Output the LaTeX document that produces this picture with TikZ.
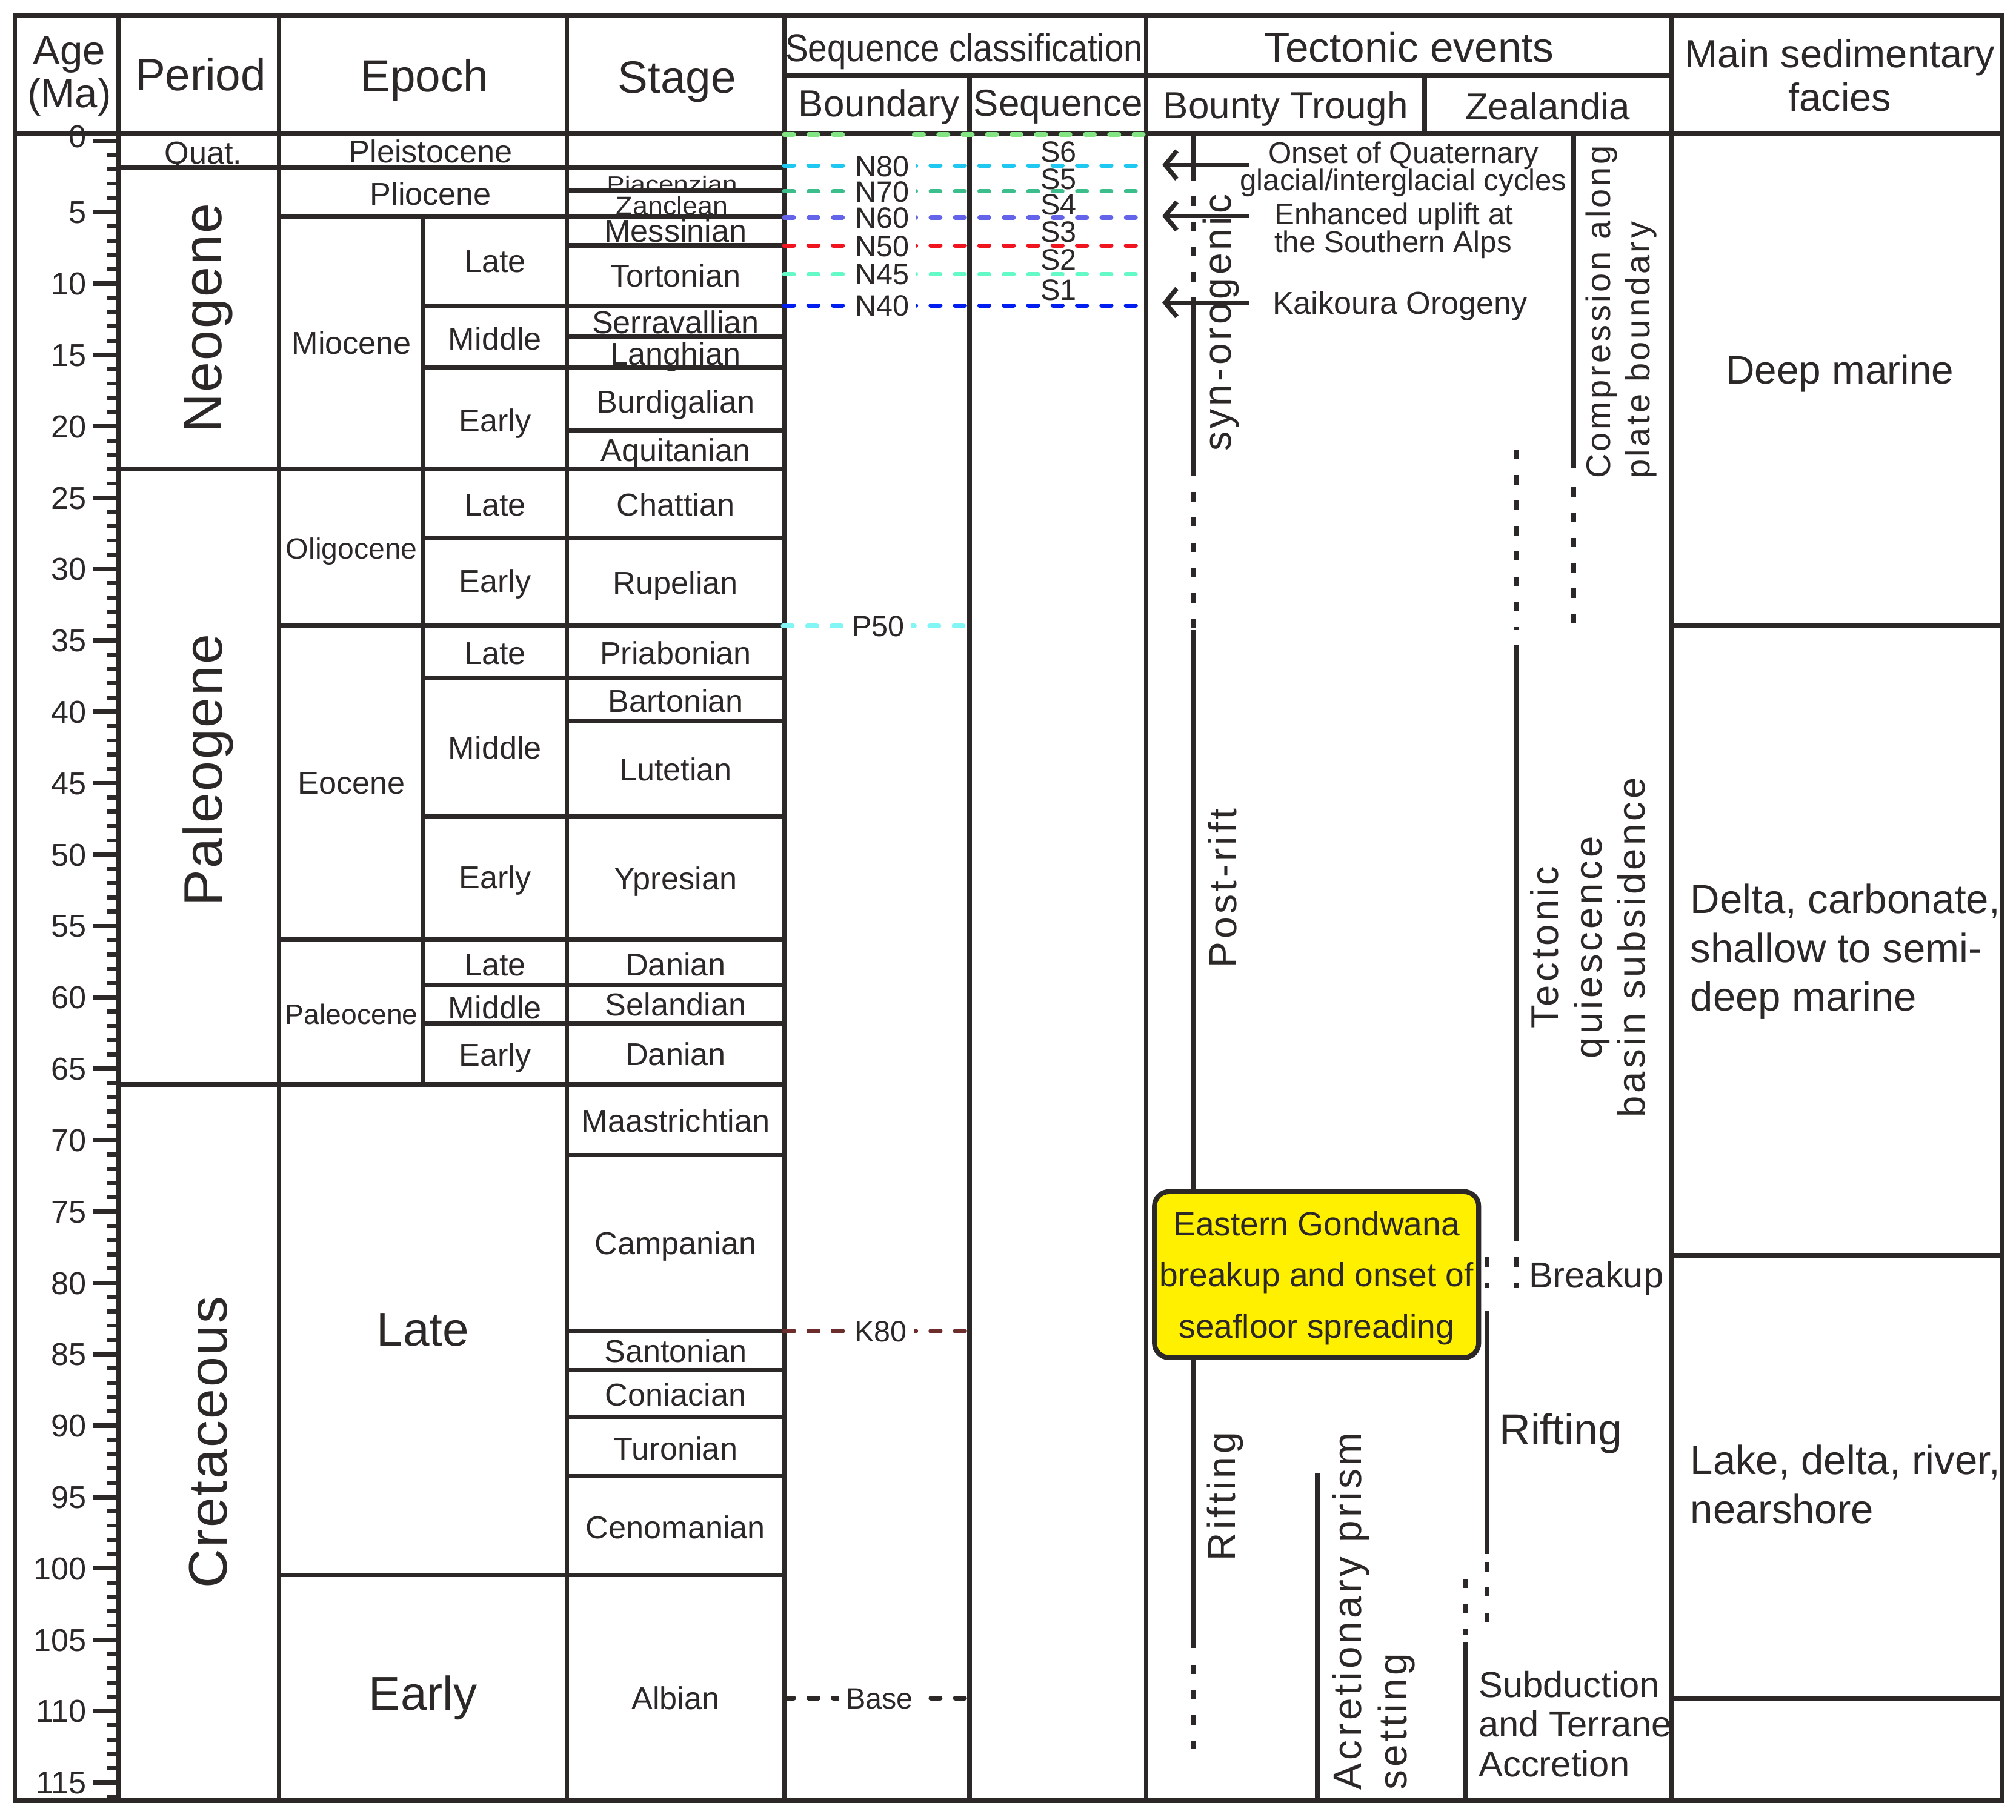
\documentclass[tikz,border=0pt]{standalone}
\usepackage{fontspec}
\setmainfont{Liberation Sans}
\newfontfamily\narrowfont[FakeStretch=0.88]{Liberation Sans}
\newfontfamily\trackfont[LetterSpace=8]{Liberation Sans}
\newfontfamily\periodfont[LetterSpace=3]{Liberation Sans}
\usetikzlibrary{arrows.meta}
\definecolor{ink}{RGB}{45,40,40}
\definecolor{bgreen}{RGB}{130,228,130}
\definecolor{bcyan}{RGB}{30,200,240}
\definecolor{bteal}{RGB}{60,190,140}
\definecolor{bviolet}{RGB}{100,100,235}
\definecolor{bred}{RGB}{240,20,30}
\definecolor{baqua}{RGB}{100,250,200}
\definecolor{bblue}{RGB}{0,30,240}
\definecolor{bpale}{RGB}{130,245,245}
\definecolor{bbrown}{RGB}{110,45,45}
\definecolor{boxyellow}{RGB}{255,240,0}
\newcommand{\fsz}[2]{\fontsize{#1}{#2}\selectfont}
\lineskiplimit=-\maxdimen
\begin{document}
\begin{tikzpicture}[x=0.01cm,y=-0.01cm,line width=1pt,color=ink,
  every node/.style={inner sep=0pt},
  hdr/.style={font=\fsz{10}{12},text height=7.2pt,text depth=0pt},
  subhdr/.style={font=\fsz{8.3}{10},text height=5.9pt,text depth=0pt},
  cell/.style={font=\fsz{7}{8},text height=5pt,text depth=0pt},
  bigcell/.style={font=\fsz{10.5}{12},text height=7.5pt,text depth=0pt},
  tick/.style={font=\fsz{7}{8},text height=5pt,text depth=0pt,anchor=east},
  bnd/.style={font=\fsz{6.5}{7},text height=4.65pt,text depth=0pt,fill=white,inner xsep=1.6pt,inner ysep=0.6pt},
  sq/.style={font=\fsz{6.5}{7},text height=4.65pt,text depth=0pt},
  seqline/.style={line width=1pt,line cap=round,dash pattern=on 2.1pt off 3.3pt},
  evline/.style={line width=1pt,dash pattern=on 2.1pt off 3.5pt},
  evarrow/.style={line width=1pt,-{Straight Barb[length=0.9mm,width=2.2mm]}},
  evtext/.style={font=\fsz{6.6}{6.1}},
  vlab/.style={rotate=90,font=\trackfont\fsz{8.6}{9.6}},
  period/.style={rotate=90,font=\periodfont\fsz{12}{14}},
  facies/.style={font=\fsz{9}{10.75},align=left,anchor=north west},
  gbox/.style={draw=ink,fill=boxyellow,rounded corners=3.2pt,line width=1.1pt,
    minimum width=2.52cm,minimum height=1.29cm,align=center,text depth=0pt,
    font=\fsz{7.4}{11.3}}]
\useasboundingbox (0,0) rectangle (1568,1415.3);

% frame and columns
\draw (11.5,12.3) rectangle (1557.5,1400.6);
\draw (11.5,104) -- (1557.5,104);
\draw (610,58.6) -- (1300,58.6);
\foreach \x in {92,217,441,610,891.5,1300}
  \draw (\x,12.3) -- (\x,1400.6);
\draw (754,58.6) -- (754,1400.6);
\draw (1108,58.6) -- (1108,104);

% period, epoch, stage boundaries
\foreach \y in {130.5,365,843.5}
  \draw (92,\y) -- (217,\y);
\foreach \y in {130.5,168.6,365,486.5,730.5,843.5,1225}
  \draw (217,\y) -- (441,\y);
\draw (329,168.6) -- (329,843.5);
\foreach \y in {237.7,286,418.4,527,635,766,796}
  \draw (329,\y) -- (441,\y);
\foreach \y in {130.5,148.5,168.6,190.8,237.7,262,286,334.6,365,418.4,486.5,527,561,635,730.5,766,796,843.5,898.5,1035.4,1065.7,1102,1148.4,1225}
  \draw (441,\y) -- (610,\y);
\foreach \y in {486.5,976.5,1321.5}
  \draw (1300,\y) -- (1557.5,\y);

% age scale
\foreach \t in {0,...,116}
  \draw[line width=0.9pt] (83,{109.5+11.105*\t}) -- (92,{109.5+11.105*\t});
\draw (72,109.5) -- (92,109.5);
\node[tick] (age0) at (69,106) {0};
\foreach \t in {5,10,...,115}{
  \draw (72,{109.5+11.105*\t}) -- (92,{109.5+11.105*\t});
  \node[tick] (age\t) at (69,{109.5+11.105*\t}) {\t};
}

% headers
\node[font=\fsz{9}{9.6},align=center,anchor=north] (agehd) at (54,26.5) {Age\\(Ma)};
\node[hdr] (periodhd) at (156,57.7) {Period};
\node[hdr] (epochhd) at (330,58.8) {Epoch};
\node[hdr] (stagehd) at (526.6,59.5) {Stage};
\node[font=\narrowfont\fsz{8.6}{10},text height=6.2pt,text depth=0pt] (seqhd) at (750,37) {Sequence classification};
\node[font=\fsz{9.3}{11},text height=6.7pt,text depth=0pt] (tecthd) at (1096,36.5) {Tectonic events};
\node[subhdr] (bndhd) at (683.6,80.2) {Boundary};
\node[subhdr] (sqhd) at (823,80) {Sequence};
\node[subhdr] (bountyhd) at (1000,81.6) {Bounty Trough};
\node[subhdr] (zealhd) at (1203.7,82.6) {Zealandia};
\node[font=\fsz{8.7}{9.7},align=center,anchor=north] (facieshd) at (1431,28.4) {Main sedimentary\\facies};

% periods
\node[cell] (quat) at (158,118.5) {Quat.};
\node[period] (neogene) at (162,247.5) {Neogene};
\node[period] (paleogene) at (162,599) {Paleogene};
\node[period] (cretaceous) at (162,1122) {Cretaceous};

% epochs
\node[cell] (pleisto) at (335,117.7) {Pleistocene};
\node[cell] (plio) at (335,150.6) {Pliocene};
\node[cell] (mio) at (273.5,266.5) {Miocene};
\node[cell,font=\fsz{6.45}{8}] (oligo) at (273.5,426) {Oligocene};
\node[cell] (eo) at (273.5,609) {Eocene};
\node[cell,font=\fsz{6.2}{8}] (paleo) at (273.5,787.8) {Paleocene};
\node[bigcell] (lateK) at (329,1034) {Late};
\node[bigcell] (earlyK) at (329,1317) {Early};
\foreach \y/\t [count=\i] in {203/Late,263.3/Middle,327/Early,392.3/Late,452/Early,508/Late,581.6/Middle,682.5/Early,750/Late,783.6/Middle,820.6/Early}
  \node[cell] (subep\i) at (385,\y) {\t};

% stages
\node[cell,font=\fsz{5.9}{7}] (piac) at (522.7,140.2) {\scalebox{1}[0.82]{Piacenzian}};
\node[cell,font=\fsz{6}{7}] (zanc) at (522.7,158.3) {\scalebox{1}[0.95]{Zanclean}};
\foreach \y/\t [count=\i] in {179.5/Messinian,214.2/Tortonian,250.7/Serravallian,275/Langhian,312.3/Burdigalian,350/Aquitanian,392.3/Chattian,453.3/Rupelian,508/Priabonian,545/Bartonian,598.5/Lutetian,683.4/Ypresian,750/Danian,781.4/Selandian,820/Danian,872/Maastrichtian,967/Campanian,1051/Santonian,1085/Coniacian,1127/Turonian,1188/Cenomanian,1321/Albian}
  \node[cell] (stage\i) at (525.5,\y) {\t};

% sequence boundaries
\draw[seqline,bgreen] (610,104.6) -- (658,104.6);
\draw[seqline,bgreen] (711,104.6) -- (891.5,104.6);
\foreach \y/\c/\n in {129/bcyan/N80,148.8/bteal/N70,169.2/bviolet/N60,191.2/bred/N50,213.2/baqua/N45,237.7/bblue/N40}{
  \draw[seqline,\c] (610,\y) -- (891.5,\y);
  \node[bnd] (\n) at (686,\y) {\n};
}
\draw[seqline,bpale] (609,486.9) -- (755.5,486.9);
\node[bnd] (P50) at (683,486.9) {P50};
\draw[seqline,bbrown] (610,1035.4) -- (755,1035.4);
\node[bnd] (K80) at (685,1035.4) {K80};
\draw[seqline,ink] (610,1321) -- (754,1321);
\node[bnd] (base) at (684,1321) {Base};
\foreach \y/\n in {118/S6,138.9/S5,158.7/S4,180.3/S3,202/S2,225.4/S1}
  \node[sq] (\n) at (823.5,\y) {\n};

% Bounty Trough
\draw (928,104) -- (928,133);
\draw[evline] (928,133) -- (928,235);
\draw (928,235) -- (928,363);
\draw[evline] (928,363) -- (928,490);
\draw (928,490) -- (928,927);
\draw (928,1056) -- (928,1282);
\draw[evline] (928,1295) -- (928,1360);
\draw (1024.5,1145.6) -- (1024.5,1400.6);
\draw[evarrow] (971.7,128.3) -- (904,128.3);
\draw[evarrow] (971.7,168) -- (904,168);
\draw[evarrow] (971.7,235.4) -- (904,235.4);
\node[evtext,align=center,anchor=north] (onset) at (1091.6,108.3) {Onset of Quaternary\\glacial/interglacial cycles};
\node[evtext,align=left,anchor=north west] (uplift) at (989.5,156.2) {Enhanced uplift at\\the Southern Alps};
\node[font=\fsz{7}{8},text height=5pt,text depth=0pt,anchor=west] (kaikoura) at (988,235.6) {Kaikoura Orogeny};
\node[vlab] (synorog) at (949.5,251) {syn-orogenic};
\node[vlab] (postrift) at (951,691) {Post-rift};
\node[vlab] (riftB) at (953,1164) {Rifting};
\node[vlab,font=\trackfont\fsz{8.8}{10.1},align=left,anchor=west] (prism) at (1068.5,1394) {Acretionary prism\\setting};
\node[gbox] (gondwana) at (1024,991.5) {Eastern Gondwana\\breakup and onset of\\seafloor spreading};

% Zealandia
\draw (1224,104) -- (1224,364);
\draw[evline] (1224,379) -- (1224,490);
\draw[evline] (1179.5,350) -- (1179.5,490);
\draw (1179.5,502) -- (1179.5,965);
\draw[evline] (1179.5,978) -- (1179.5,1002);
\draw[evline] (1156.5,978) -- (1156.5,1002);
\draw (1156.5,1020) -- (1156.5,1209);
\draw[evline] (1156.5,1215) -- (1156.5,1264);
\draw[evline] (1140,1228) -- (1140,1272);
\draw (1140,1277) -- (1140,1400.6);
\node[vlab,font=\trackfont\fsz{7.5}{8.8},align=left,anchor=west] (compress) at (1261,374) {Compression along\\plate boundary};
\node[vlab,font=\trackfont\fsz{8.5}{9.6},align=center] (quiet) at (1235,737) {Tectonic\\quiescence\\basin subsidence};
\node[font=\fsz{8}{9},text height=5.7pt,text depth=0pt] (breakup) at (1241.5,991.5) {Breakup};
\node[font=\fsz{9.6}{11},text height=6.9pt,text depth=0pt] (riftZ) at (1214,1111.7) {Rifting};
\node[font=\fsz{8}{8.8},align=left,anchor=north west] (subduct) at (1148.4,1298) {Subduction\\and Terrane\\Accretion};

% facies
\node[font=\fsz{8.8}{10},text height=6.3pt,text depth=0pt] (deep) at (1431,287.6) {Deep marine};
\node[facies] (delta) at (1313,686) {Delta, carbonate,\\shallow to semi-\\deep marine};
\node[facies] (lake) at (1313,1122.4) {Lake, delta, river,\\nearshore};
\end{tikzpicture}
\end{document}
